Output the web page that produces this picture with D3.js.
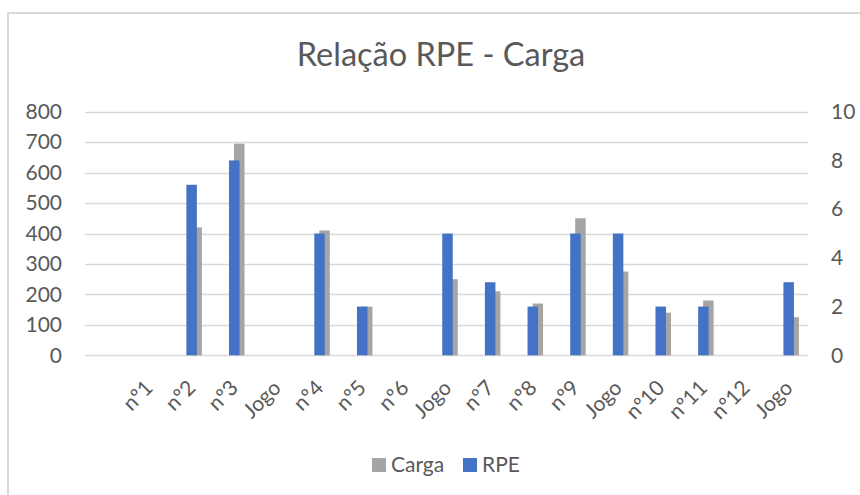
<!DOCTYPE html>
<html>
<head>
<meta charset="utf-8">
<script src="https://cdn.jsdelivr.net/npm/d3@7"></script>
<style>
  body { margin: 0; background: #fff; }
  svg text { font-family: Lato, "Open Sans", sans-serif; fill: #595959; }
</style>
</head>
<body>
<div id="chart"></div>
<script>
// categories (first slot is an empty category, as in the original sheet)
var categories = ["", "nº1", "nº2", "nº3", "Jogo", "nº4", "nº5", "nº6", "Jogo", "nº7", "nº8", "nº9", "Jogo", "nº10", "nº11", "nº12", "Jogo"];
var carga = [null, null, 420, 695, null, 410, 160, null, 250, 210, 170, 450, 275, 140, 180, null, 125];
var rpe   = [null, null, 7, 8, null, 5, 2, null, 5, 3, 2, 5, 5, 2, 2, null, 3];
var leftTicks = [0, 100, 200, 300, 400, 500, 600, 700, 800];
var rightTicks = [0, 2, 4, 6, 8, 10];

var W = 860, H = 495;
var margin = {top: 112, right: 52, bottom: 140, left: 85};

var svg = d3.select("#chart").append("svg")
    .attr("width", W)
    .attr("height", H);

// chart frame (runs off the right and bottom of the picture)
svg.append("rect")
    .attr("x", 8).attr("y", 13)
    .attr("width", W + 20).attr("height", H + 20)
    .attr("fill", "none")
    .attr("stroke", "#d9d9d9")
    .attr("stroke-width", 2);

var x = d3.scaleBand()
    .domain(d3.range(categories.length))
    .range([margin.left, 810]);

var y = d3.scaleLinear().domain([0, 800]).range([355.3, 111.7]);
var y2 = d3.scaleLinear().domain([0, 10]).range([355.3, 111.7]);

// gridlines
svg.append("g").selectAll("line")
    .data(leftTicks)
    .enter().append("line")
    .attr("x1", margin.left).attr("x2", 808)
    .attr("y1", function(d) { return Math.round(y(d)) + 0.5; })
    .attr("y2", function(d) { return Math.round(y(d)) + 0.5; })
    .attr("stroke", "#d9d9d9")
    .attr("stroke-width", 1.5);

var barW = 10.5;

// Carga (primary axis), sits behind and shifted right
svg.append("g").selectAll("rect")
    .data(carga.map(function(v, i) { return {v: v, i: i}; }).filter(function(d) { return d.v != null; }))
    .enter().append("rect")
    .attr("x", function(d) { return x(d.i) + x.bandwidth() / 2 - barW / 2 + 5; })
    .attr("width", barW)
    .attr("y", function(d) { return y(d.v); })
    .attr("height", function(d) { return y(0) - y(d.v); })
    .attr("fill", "#a5a5a5");

// RPE (secondary axis), in front
svg.append("g").selectAll("rect")
    .data(rpe.map(function(v, i) { return {v: v, i: i}; }).filter(function(d) { return d.v != null; }))
    .enter().append("rect")
    .attr("x", function(d) { return x(d.i) + x.bandwidth() / 2 - barW / 2; })
    .attr("width", barW)
    .attr("y", function(d) { return y2(d.v); })
    .attr("height", function(d) { return y2(0) - y2(d.v); })
    .attr("fill", "#4472c4");

// left axis
var yAxis = d3.axisLeft(y).tickValues(leftTicks).tickSize(0).tickPadding(0);
svg.append("g")
    .attr("transform", "translate(62,0)")
    .call(yAxis)
    .call(function(g) { g.select(".domain").remove(); })
    .selectAll("text")
    .style("font-size", "21px");

// right axis
var y2Axis = d3.axisRight(y2).tickValues(rightTicks).tickSize(0).tickPadding(0);
svg.append("g")
    .attr("transform", "translate(831,0)")
    .call(y2Axis)
    .call(function(g) { g.select(".domain").remove(); })
    .selectAll("text")
    .style("font-size", "21px");

// category labels, rotated
svg.append("g").selectAll("text")
    .data(categories)
    .enter().append("text")
    .attr("transform", function(d, i) {
        return "translate(" + (x(i) + x.bandwidth() / 2) + ",384) rotate(-45)";
    })
    .attr("text-anchor", "end")
    .attr("dy", "0.35em")
    .style("font-size", "21px")
    .text(function(d) { return d; });

// title
svg.append("text")
    .attr("x", 441).attr("y", 66)
    .attr("text-anchor", "middle")
    .style("font-size", "32.5px")
    .text("Relação RPE - Carga");

// legend
var legend = [{name: "Carga", color: "#a5a5a5", x: 372}, {name: "RPE", color: "#4472c4", x: 463}];
var lg = svg.append("g").selectAll("g")
    .data(legend)
    .enter().append("g")
    .attr("transform", function(d) { return "translate(" + d.x + ",458)"; });
lg.append("rect")
    .attr("width", 14).attr("height", 14)
    .attr("fill", function(d) { return d.color; });
lg.append("text")
    .attr("x", 19).attr("y", 14)
    .style("font-size", "21px")
    .text(function(d) { return d.name; });
</script>
</body>
</html>
